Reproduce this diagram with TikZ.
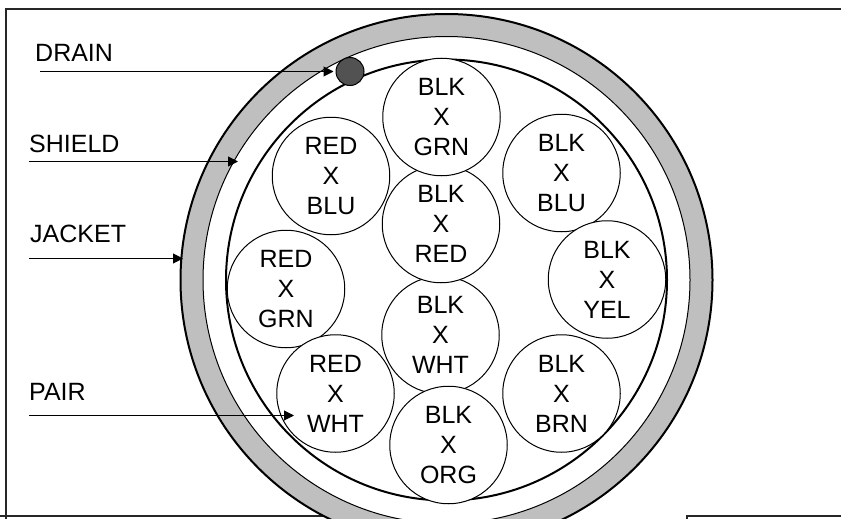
\documentclass[tikz,border=0pt]{standalone}
\usepackage{fontspec}
\setmainfont{Liberation Sans}
\usetikzlibrary{arrows.meta}
\tikzset{
  x=1pt,y=-1pt,
  pairnode/.style={circle,draw=black,fill=white,line width=1pt,minimum size=117.5pt,inner sep=0pt,align=center,font=\fontsize{25}{30}\selectfont,text=black},
  labeltext/.style={inner sep=0pt,anchor=base west,font=\fontsize{25}{28}\selectfont,text=black},
  callout/.style={line width=1pt,-{Triangle[length=10pt,width=10pt]}},
  framing/.style={line width=2pt,draw=black!85}
}
\begin{document}
\begin{tikzpicture}
\useasboundingbox (0,0) rectangle (841,519);
\clip (0,0) rectangle (841,519);
\fill[white] (0,0) rectangle (841,519);
% frame
\draw[framing] (841,9) -- (6,9) -- (6,519);
\draw[framing] (0,516) -- (328,516);
\draw[framing] (687,519) -- (687,516) -- (841,516);
% jacket
\coordinate (c) at (446.5,280);
\fill[white] (c) circle[radius=266];
\fill[black!25,even odd rule] (c) circle[radius=266] (c) circle[radius=243.5];
\draw[line width=2pt] (c) circle[radius=266];
\draw[line width=1pt] (c) circle[radius=243.5];
% bundle
\draw[line width=2pt] (c) circle[radius=220.5];
% pairs
\node[pairnode] (wht) at (440.5,335) {BLK\\X\\WHT};
\node[pairnode] (org) at (448.5,445) {BLK\\X\\ORG};
\node[pairnode] (bred) at (441,224) {BLK\\X\\RED};
\node[pairnode] (grn) at (441.5,117) {BLK\\X\\GRN};
\node[pairnode] (blu) at (331,176) {RED\\X\\BLU};
\node[pairnode] (bblu) at (561.5,173) {BLK\\X\\BLU};
\node[pairnode] (brn) at (561.5,393.5) {BLK\\X\\BRN};
\node[pairnode] (yel) at (607,279.5) {BLK\\X\\YEL};
\node[pairnode] (gr) at (286,289) {RED\\X\\GRN};
\node[pairnode] (rwht) at (335.5,393.5) {RED\\X\\WHT};
% drain
\node[circle,draw=black,line width=1pt,fill=black!68,minimum size=28pt,inner sep=0pt] (drain) at (350,71.5) {};
% labels
\node[labeltext] (ldrain) at (35,62) {DRAIN};
\node[labeltext] (lshield) at (29,152) {SHIELD};
\node[labeltext] (ljacket) at (30,242) {JACKET};
\node[labeltext] (lpair) at (29,400) {PAIR};
% callouts
\coordinate (sd) at (40,71.5);
\coordinate (ss) at (29,161.5);
\coordinate (sj) at (29,258.5);
\coordinate (sp) at (29,415.5);
\coordinate (es) at (238,161.5);
\coordinate (ej) at (183,258.5);
\coordinate (ep) at (294,415.5);
\draw[callout,shorten >=2pt] (sd) -- (drain.west);
\draw[callout] (ss) -- (es);
\draw[callout] (sj) -- (ej);
\draw[callout] (sp) -- (ep);
\end{tikzpicture}
\end{document}
